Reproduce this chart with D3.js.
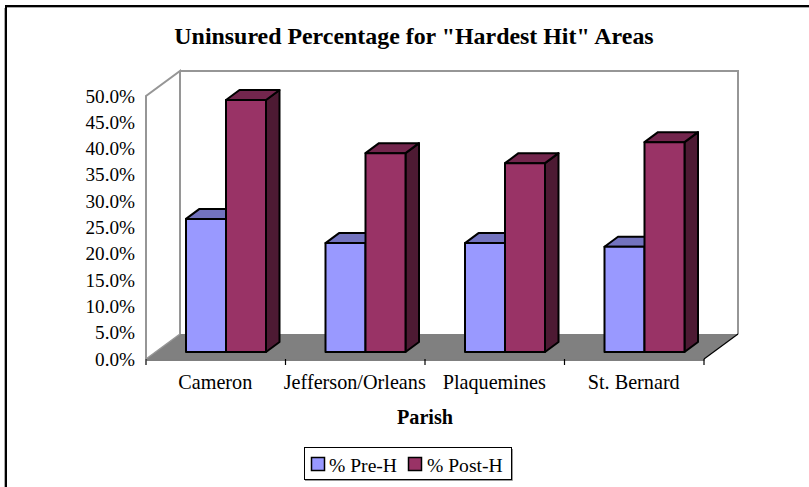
<!DOCTYPE html>
<html><head><meta charset="utf-8">
<script src="https://cdn.jsdelivr.net/npm/d3@7"></script>
<style>html,body{margin:0;padding:0;background:#fff}svg{display:block}text{font-family:"Liberation Serif","Times New Roman",serif;fill:#000}</style>
</head><body><svg id="c" width="809" height="487"></svg>
<script>
const categories = ["Cameron","Jefferson/Orleans","Plaquemines","St. Bernard"];
const seriesNames = ["% Pre-H","% Post-H"];
const preH = [25.3,20.7,20.7,20.0];
const postH = [47.9,37.8,35.9,39.9];
const yTicks = [0,5,10,15,20,25,30,35,40,45,50];
const frontColors = ["#9999ff","#993366"];
const topColors = ["#7373bf","#73264d"];
const sideColors = ["#4d4d80","#4d1a33"];

const svg = d3.select("#c");
// frame: only top and left edges are inside the picture
svg.append("path").attr("fill","none").attr("stroke","#aaa").attr("stroke-width",1)
 .attr("d","M4.5,487V8M7,7.5H809");
svg.append("path").attr("fill","none").attr("stroke","#000").attr("stroke-width",2)
 .attr("d","M6,487V6H809");

const x = d3.scaleBand().domain(categories).range([146,704]);
const y = d3.scaleLinear().domain([0,50]).range([359,96]);
const DX=34, DY=-25;
const x0=x.range()[0], x1=x.range()[1], y0=y(0), yT=y(50);
const pts = a=>a.map(p=>p.join(",")).join(" ");

// walls
svg.append("polygon").attr("points",pts([[x0,y0],[x0+DX,y0+DY],[x1+DX,y0+DY],[x1,y0]])).attr("fill","#808080");
svg.append("path").attr("fill","none").attr("stroke","#969696").attr("stroke-width",2)
 .attr("d",`M${x0},${y0}V${yT}L${x0+DX},${yT+DY}V${y0+DY}M${x0+DX},${yT+DY}H${x1+DX}V${y0+DY}`);
svg.append("path").attr("fill","none").attr("stroke","#969696").attr("stroke-width",1.5)
 .attr("d",`M${x0},${y0}L${x0+DX},${y0+DY}`);
svg.append("path").attr("fill","none").attr("stroke","#000").attr("stroke-width",1.2)
 .attr("d",`M${x1},${y0}L${x1+DX},${y0+DY}`);

// bars
const bx = d3.scaleBand().domain([0,1]).range([0,80]);
const bDX=13.5, bDY=-10, baseY=352, barOff=40;
const base = y(0)-baseY;
const series=[preH,postH];
categories.forEach((c,i)=>{
  series.forEach((vals,s)=>{
    const l=x(c)+barOff+bx(s), r=l+bx.bandwidth(), t=y(vals[i])-base, b=y(0)-base;
    const g=svg.append("g").attr("stroke","#000").attr("stroke-width",2).attr("stroke-linejoin","round");
    g.append("polygon").attr("points",pts([[r,t],[r+bDX,t+bDY],[r+bDX,b+bDY],[r,b]])).attr("fill",sideColors[s]);
    g.append("polygon").attr("points",pts([[l,t],[l+bDX,t+bDY],[r+bDX,t+bDY],[r,t]])).attr("fill",topColors[s]);
    g.append("rect").attr("x",l).attr("y",t).attr("width",r-l).attr("height",b-t).attr("fill",frontColors[s]);
  });
});

// y labels
svg.append("g").selectAll("text").data(yTicks).join("text")
 .attr("x",135).attr("y",d=>y(d)+6.5).attr("text-anchor","end").attr("font-size",19.2)
 .text(d=>d.toFixed(1)+"%");

// x axis
const ax=svg.append("g").attr("transform",`translate(0,${y0+0.5})`)
 .call(d3.axisBottom(x).tickSize(0).tickFormat(""));
ax.select(".domain").attr("stroke","#000").attr("stroke-width",1.2);
ax.selectAll(".tick").remove();
const edges=[...categories.map(c=>x(c)),x1];
svg.append("g").selectAll("line").data(edges).join("line")
 .attr("x1",d=>d).attr("x2",d=>d).attr("y1",y0).attr("y2",y0+6).attr("stroke","#000").attr("stroke-width",1.2);
svg.append("g").selectAll("text").data(categories).join("text")
 .attr("x",d=>x(d)+x.bandwidth()/2-0.5).attr("y",389).attr("text-anchor","middle").attr("font-size",20.2).text(d=>d);

svg.append("text").attr("x",414).attr("y",44).attr("text-anchor","middle").attr("font-size",23.9).attr("font-weight","bold").text('Uninsured Percentage for "Hardest Hit" Areas');
svg.append("text").attr("x",425).attr("y",424).attr("text-anchor","middle").attr("font-size",20.2).attr("font-weight","bold").text("Parish");

// legend
svg.append("path").attr("fill","none").attr("stroke","#999").attr("d","M305,480.5H512.5V449");
svg.append("rect").attr("x",304.5).attr("y",447.5).attr("width",207).attr("height",32).attr("fill","#fff").attr("stroke","#000");
const lx=[311.5,408.5], tx=[329,427];
seriesNames.forEach((n,s)=>{
  svg.append("rect").attr("x",lx[s]).attr("y",457.5).attr("width",13).attr("height",13).attr("fill",frontColors[s]).attr("stroke","#000").attr("stroke-width",1.5);
  svg.append("text").attr("x",tx[s]).attr("y",472).attr("font-size",19.6).text(n);
});
</script></body></html>
